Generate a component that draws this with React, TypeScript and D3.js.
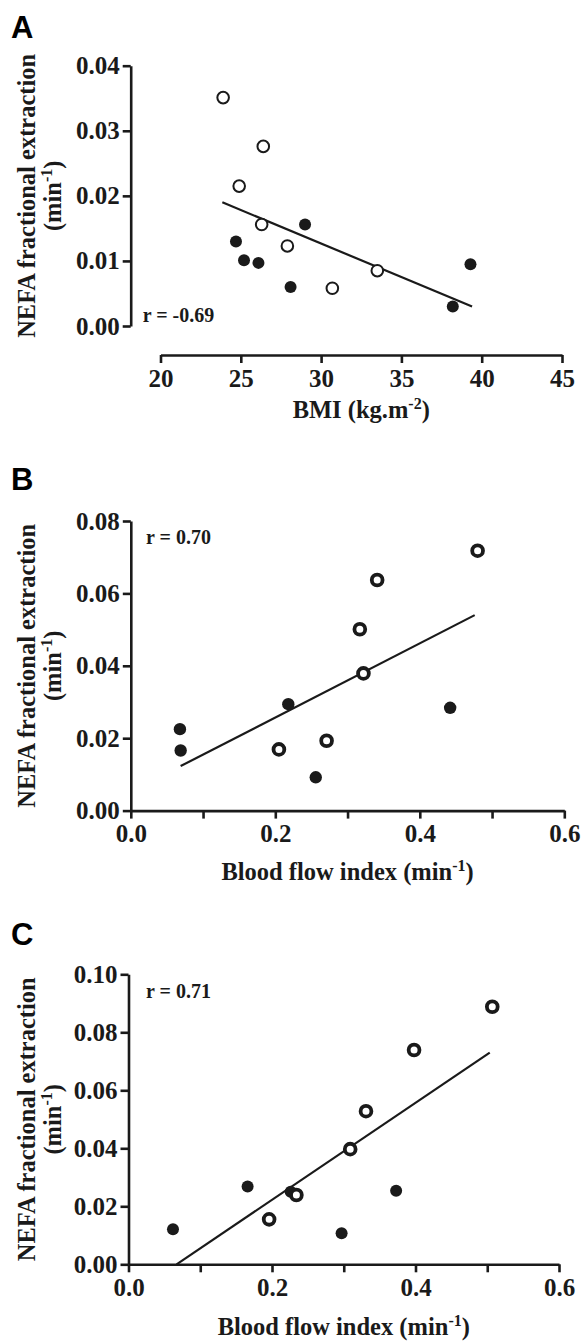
import React, { useEffect, useRef } from "react";
import * as d3 from "d3";

// Panel A: BMI vs NEFA fractional extraction
const bmiOpenA = [23.9, 26.4, 24.9, 26.3, 27.9, 30.7, 33.5];
const nefaOpenA = [0.0351, 0.0276, 0.0215, 0.0156, 0.0123, 0.0058, 0.0085];
const bmiFilledA = [24.7, 25.2, 26.1, 28.1, 29.0, 38.2, 39.3];
const nefaFilledA = [0.013, 0.0101, 0.0097, 0.006, 0.0156, 0.003, 0.0095];
const fitXA = [23.85, 39.4];
const fitYA = [0.019, 0.003];

// Panel B: blood flow index vs NEFA fractional extraction
const bfiOpenB = [0.205, 0.271, 0.317, 0.322, 0.341, 0.48];
const nefaOpenB = [0.0169, 0.0193, 0.0501, 0.0379, 0.0637, 0.0718];
const bfiFilledB = [0.068, 0.069, 0.218, 0.256, 0.442];
const nefaFilledB = [0.0225, 0.0166, 0.0294, 0.0092, 0.0284];
const fitXB = [0.069, 0.476];
const fitYB = [0.0123, 0.054];

// Panel C
const bfiOpenC = [0.196, 0.234, 0.309, 0.331, 0.398, 0.507];
const nefaOpenC = [0.0155, 0.0239, 0.0397, 0.0528, 0.0739, 0.0888];
const bfiFilledC = [0.062, 0.166, 0.226, 0.297, 0.373];
const nefaFilledC = [0.0121, 0.0268, 0.025, 0.0107, 0.0254];
const fitXC = [0.067, 0.5035];
const fitYC = [0.0, 0.073];

const xTicksA = [20, 25, 30, 35, 40, 45];
const yTicksA = [0, 0.01, 0.02, 0.03, 0.04];
const xTicksBC = [0, 0.1, 0.2, 0.3, 0.4, 0.5, 0.6];
const xLabelsBC = [0, 0.2, 0.4, 0.6];
const yTicksB = [0, 0.02, 0.04, 0.06, 0.08];
const yTicksC = [0, 0.02, 0.04, 0.06, 0.08, 0.1];

const SERIF = "'Liberation Serif', 'Times New Roman', serif";
const SANS = "'Liberation Sans', Arial, sans-serif";

const zip = (xs, ys) => xs.map((x, i) => [x, ys[i]]);

const panels = [
    {
        letter: "A", letterY: 38,
        xDomain: [20, 45], xRange: [160.5, 562], yDomain: [0, 0.04], yRange: [326, 65.7],
        xAxisY: 355, xTicks: xTicksA, xLabels: xTicksA, xFmt: d3.format("d"),
        yTicks: yTicksA, xTitle: ["BMI (kg.m", "-2", ")"], xTitleY: 418,
        open: zip(bmiOpenA, nefaOpenA), filled: zip(bmiFilledA, nefaFilledA),
        fit: zip(fitXA, fitYA), r: "r = -0.69", rPos: [142.7, 321.7],
        openR: 5.8, openW: 2, filledR: 6
    },
    {
        letter: "B", letterY: 490,
        xDomain: [0, 0.6], xRange: [130.8, 564.3], yDomain: [0, 0.08], yRange: [810.6, 521],
        xAxisY: 810.6, xTicks: xTicksBC, xLabels: xLabelsBC, xFmt: d3.format(".1f"),
        yTicks: yTicksB, xTitle: ["Blood flow index (min", "-1", ")"], xTitleY: 880,
        open: zip(bfiOpenB, nefaOpenB), filled: zip(bfiFilledB, nefaFilledB),
        fit: zip(fitXB, fitYB), r: "r = 0.70", rPos: [146, 544],
        openR: 5.4, openW: 3.8, filledR: 6.2
    },
    {
        letter: "C", letterY: 945,
        xDomain: [0, 0.6], xRange: [128.5, 559], yDomain: [0, 0.1], yRange: [1264.3, 974.3],
        xAxisY: 1264.3, xTicks: xTicksBC, xLabels: xLabelsBC, xFmt: d3.format(".1f"),
        yTicks: yTicksC, xTitle: ["Blood flow index (min", "-1", ")"], xTitleY: 1335,
        open: zip(bfiOpenC, nefaOpenC), filled: zip(bfiFilledC, nefaFilledC),
        fit: zip(fitXC, fitYC), r: "r = 0.71", rPos: [146, 998],
        openR: 5.4, openW: 3.8, filledR: 6
    }
];

const App = () => {
    const svgRef = useRef(null);

    useEffect(() => {
        document.body.style.margin = "0";
        const svg = d3.select(svgRef.current);
        svg.selectAll("*").remove();

        panels.forEach(p => {
            const x = d3.scaleLinear().domain(p.xDomain).range(p.xRange);
            const y = d3.scaleLinear().domain(p.yDomain).range(p.yRange);
            const g = svg.append("g");
            // panel A has a detached x axis, so its y axis sits left of the x range
            const yAxisX = p.xAxisY === p.yRange[0] ? p.xRange[0] : 130.7;

            // panel letter
            g.append("text")
                .attr("x", 11).attr("y", p.letterY)
                .attr("font-family", SANS).attr("font-weight", "bold")
                .attr("font-size", 31).text(p.letter);

            // y axis
            const yAxis = g.append("g")
                .attr("transform", `translate(${yAxisX},0)`)
                .call(d3.axisLeft(y).tickValues(p.yTicks).tickFormat(d3.format(".2f"))
                    .tickSize(8).tickSizeOuter(0).tickPadding(3));
            yAxis.select(".domain").attr("stroke-width", 2.6).attr("stroke", "#1a1a1a");
            yAxis.selectAll(".tick line").attr("stroke-width", 2.6).attr("stroke", "#1a1a1a");
            yAxis.selectAll("text")
                .attr("font-family", SERIF).attr("font-weight", "bold")
                .attr("font-size", 25).attr("fill", "#1a1a1a");

            // x axis
            const xAxis = g.append("g")
                .attr("transform", `translate(0,${p.xAxisY})`)
                .call(d3.axisBottom(x).tickValues(p.xTicks)
                    .tickFormat(d => (p.xLabels.some(v => Math.abs(v - d) < 1e-9) ? p.xFmt(d) : ""))
                    .tickSize(8).tickSizeOuter(0).tickPadding(6));
            xAxis.select(".domain").attr("stroke-width", 2.6).attr("stroke", "#1a1a1a");
            xAxis.selectAll(".tick line").attr("stroke-width", 2.6).attr("stroke", "#1a1a1a");
            xAxis.selectAll("text")
                .attr("font-family", SERIF).attr("font-weight", "bold")
                .attr("font-size", 25).attr("fill", "#1a1a1a");

            // y title
            const yMid = (p.yRange[0] + p.yRange[1]) / 2;
            g.append("text")
                .attr("transform", `translate(35,${yMid}) rotate(-90)`)
                .attr("text-anchor", "middle")
                .attr("font-family", SERIF).attr("font-weight", "bold")
                .attr("font-size", 24.5).attr("fill", "#1a1a1a")
                .text("NEFA fractional extraction");
            const yTitle2 = g.append("text")
                .attr("transform", `translate(61,${yMid}) rotate(-90)`)
                .attr("text-anchor", "middle")
                .attr("font-family", SERIF).attr("font-weight", "bold")
                .attr("font-size", 24.5).attr("fill", "#1a1a1a");
            yTitle2.append("tspan").text("(min");
            yTitle2.append("tspan").attr("font-size", 16).attr("dy", -9).text("-1");
            yTitle2.append("tspan").attr("dy", 9).text(")");

            // x title
            const xMid = (p.xRange[0] + p.xRange[1]) / 2;
            const xTitle = g.append("text")
                .attr("x", xMid).attr("y", p.xTitleY)
                .attr("text-anchor", "middle")
                .attr("font-family", SERIF).attr("font-weight", "bold")
                .attr("font-size", 24.5).attr("fill", "#1a1a1a");
            xTitle.append("tspan").text(p.xTitle[0]);
            xTitle.append("tspan").attr("font-size", 16).attr("dy", -9).text(p.xTitle[1]);
            xTitle.append("tspan").attr("dy", 9).text(p.xTitle[2]);

            // regression line
            g.append("path")
                .attr("d", d3.line().x(d => x(d[0])).y(d => y(d[1]))(p.fit))
                .attr("fill", "none").attr("stroke", "#1a1a1a").attr("stroke-width", 2.2);

            // points
            g.selectAll(".filled").data(p.filled).enter().append("circle")
                .attr("cx", d => x(d[0])).attr("cy", d => y(d[1]))
                .attr("r", p.filledR).attr("fill", "#1a1a1a");
            g.selectAll(".open").data(p.open).enter().append("circle")
                .attr("cx", d => x(d[0])).attr("cy", d => y(d[1]))
                .attr("r", p.openR).attr("fill", "white")
                .attr("stroke", "#1a1a1a").attr("stroke-width", p.openW);

            // correlation
            g.append("text")
                .attr("x", p.rPos[0]).attr("y", p.rPos[1])
                .attr("font-family", SERIF).attr("font-weight", "bold")
                .attr("font-size", 20).attr("fill", "#1a1a1a")
                .text(p.r);
        });
    }, []);

    return (
        <svg ref={svgRef} width={581} height={1341} style={{ display: "block", background: "white" }} />
    );
};

export default App;
